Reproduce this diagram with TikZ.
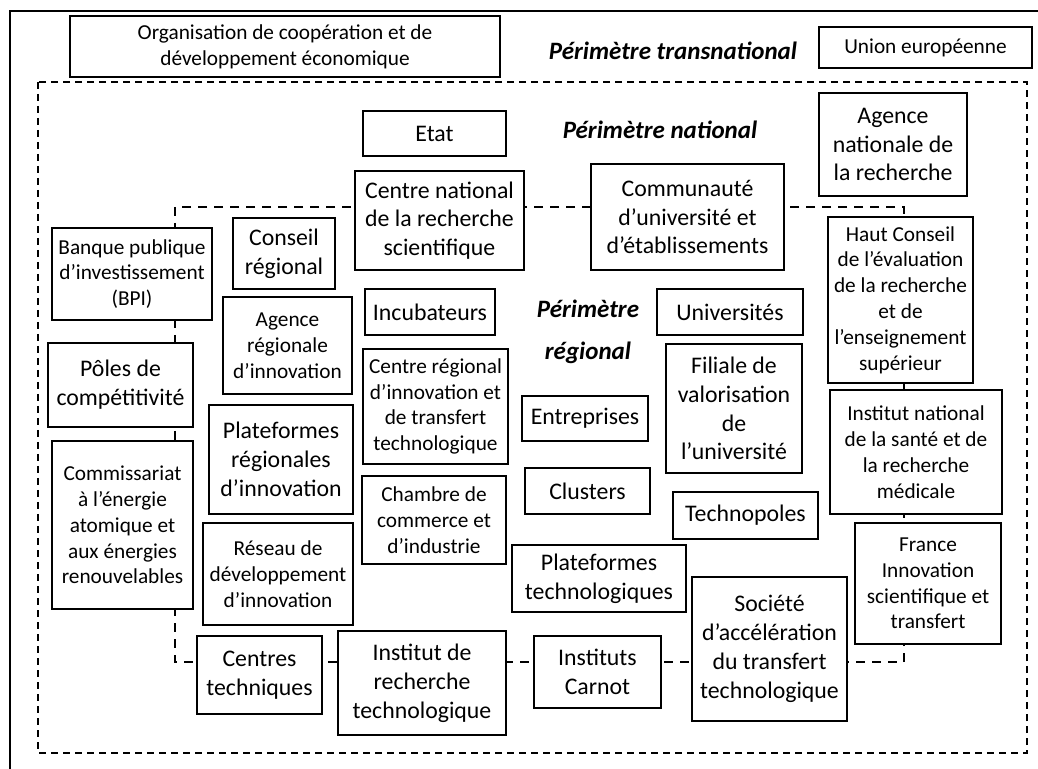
\documentclass[tikz,border=0pt]{standalone}
\usepackage{fontspec}
\setmainfont{Carlito}

\begin{document}
\begin{tikzpicture}[
			x=0.5pt, y=-0.5pt,
			box/.style={draw, rectangle, line width=1pt, fill=white, align=center, inner sep=0pt},
			sm/.style={font=\fontsize{10.65}{12.9}\selectfont},
			lg/.style={font=\fontsize{11.9}{14.4}\selectfont},
			perim/.style={font=\fontsize{12.5}{15}\selectfont\bfseries\itshape, align=center},
			natline/.style={dash pattern=on 3.5pt off 2.5pt, line width=0.75pt},
			regline/.style={dash pattern=on 4.5pt off 3.5pt, line width=0.75pt}
			]
			\useasboundingbox (0,0) rectangle (1038,769);
			\clip (0,0) rectangle (1038,769);
			
			% Perimeters
			\draw[line width=1pt] (10,11) rectangle (1060,790);
			\draw[natline] (38,82) rectangle (1027,753);
			\draw[regline] (175,207) rectangle (904,662);
			
			\node[perim] (ltrans) at (673,51) {Périmètre transnational};
			\node[perim] (lnat) at (660,130) {Périmètre national};
			\node[perim] (lreg) at (588,332) {Périmètre\\[6pt]régional};
			
			% Transnational
			\node[box, sm, minimum width=215pt, minimum height=30.5pt] (ocde) at (285,46.5) {Organisation de coopération et de\\développement économique};
			\node[box, sm, minimum width=106.5pt, minimum height=20.5pt] (ue) at (925.5,47.5) {Union européenne};
			
			% National
			\node[box, lg, minimum width=71.5pt, minimum height=22.5pt] (etat) at (434.5,133.5) {Etat};
			\node[box, lg, minimum width=74pt, minimum height=51.5pt] (anr) at (893,144.5) {Agence\\nationale de\\la recherche};
			\node[box, lg, minimum width=84.5pt, minimum height=49.5pt] (cnrs) at (439.5,220.5) {Centre national\\de la recherche\\scientifique};
			\node[box, lg, minimum width=96.5pt, minimum height=53pt] (comue) at (687.5,217) {Communauté\\d’université et\\d’établissements};
			\node[box, sm, minimum width=80pt, minimum height=46pt] (bpi) at (132,274) {Banque publique\\d’investissement\\(BPI)};
			\node[box, lg, minimum width=72.5pt, minimum height=42pt] (poles) at (120.5,385) {Pôles de\\compétitivité};
			\node[box, sm, minimum width=70.5pt, minimum height=84pt] (cea) at (122.5,525) {Commissariat\\à l’énergie\\atomique et\\aux énergies\\renouvelables};
			\node[box, sm, minimum width=72.5pt, minimum height=83pt] (hceres) at (900.5,300) {Haut Conseil\\de l’évaluation\\de la recherche\\et de\\l’enseignement\\supérieur};
			\node[box, sm, minimum width=86pt, minimum height=62pt] (inserm) at (916,452) {Institut national\\de la santé et de\\la recherche\\médicale};
			\node[box, sm, minimum width=73pt, minimum height=60.5pt] (fist) at (928,583.5) {France\\Innovation\\scientifique et\\transfert};
			\node[box, lg, minimum width=62.5pt, minimum height=39pt] (ctech) at (259.5,675) {Centres\\techniques};
			\node[box, lg, minimum width=84pt, minimum height=52pt] (irt) at (422,683) {Institut de\\recherche\\technologique};
			\node[box, lg, minimum width=63.5pt, minimum height=36pt] (carnot) at (597.5,672) {Instituts\\Carnot};
			\node[box, lg, minimum width=77.5pt, minimum height=72pt] (satt) at (769.5,649) {Société\\d’accélération\\du transfert\\technologique};
			
			% Regional
			\node[box, lg, minimum width=51pt, minimum height=35.5pt] (conseil) at (284,253.5) {Conseil\\régional};
			\node[box, sm, minimum width=64.5pt, minimum height=48.5pt] (ari) at (287.5,345.5) {Agence\\régionale\\d’innovation};
			\node[box, lg, minimum width=72pt, minimum height=54.5pt] (pri) at (281,459.5) {Plateformes\\régionales\\d’innovation};
			\node[box, sm, minimum width=75pt, minimum height=51pt] (rdi) at (278,574) {Réseau de\\développement\\d’innovation};
			\node[box, lg, minimum width=65pt, minimum height=23pt] (incub) at (430,312) {Incubateurs};
			\node[box, sm, minimum width=72.5pt, minimum height=57.5pt] (critt) at (435.5,406.5) {Centre régional\\d’innovation et\\de transfert\\technologique};
			\node[box, sm, minimum width=72pt, minimum height=44pt] (cci) at (434,520) {Chambre de\\commerce et\\d’industrie};
			\node[box, lg, minimum width=63pt, minimum height=22.5pt] (entr) at (585,418.5) {Entreprises};
			\node[box, lg, minimum width=62.5pt, minimum height=23pt] (clust) at (587.5,491) {Clusters};
			\node[box, lg, minimum width=87pt, minimum height=33.5pt] (ptech) at (599,578.5) {Plateformes\\technologiques};
			\node[box, lg, minimum width=73pt, minimum height=23pt] (univ) at (730,312) {Universités};
			\node[box, lg, minimum width=68pt, minimum height=64.5pt] (filiale) at (734,408.5) {Filiale de\\valorisation\\de\\l’université};
			\node[box, lg, minimum width=72.5pt, minimum height=23.5pt] (techno) at (745.5,515.5) {Technopoles};
			
		\end{tikzpicture}
\end{document}
